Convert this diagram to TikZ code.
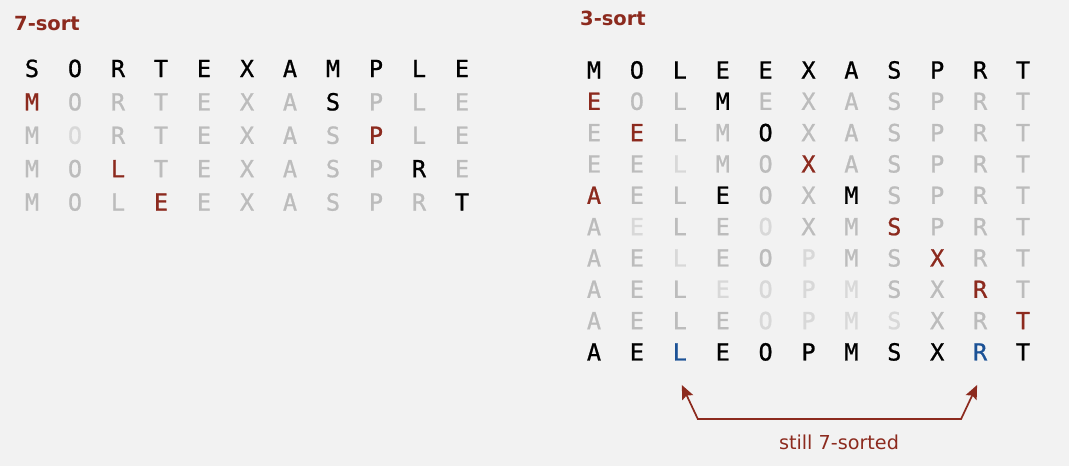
\documentclass[tikz,border=0pt]{standalone}
\usepackage{fontspec}
\setmainfont{DejaVu Sans}
\newfontfamily\monof{DejaVu Sans Mono}[RawFeature={embolden=0.9}]
\usetikzlibrary{arrows.meta,calc}
\definecolor{bgc}{RGB}{242,242,242}
\definecolor{cr}{RGB}{140,42,30}
\definecolor{ck}{RGB}{0,0,0}
\definecolor{cg}{RGB}{188,188,188}
\definecolor{cl}{RGB}{216,216,216}
\definecolor{cb}{RGB}{28,82,150}
\tikzset{
  letter/.style={anchor=base,inner sep=0pt,font=\monof\fontsize{23.5}{28}\selectfont},
  title/.style={anchor=base west,inner sep=0pt,text=cr,font=\bfseries\fontsize{19.5}{24}\selectfont},
  note/.style={anchor=base,inner sep=0pt,text=cr,font=\fontsize{19.2}{23}\selectfont},
  bracket/.style={draw=cr,line width=1.7pt,{Stealth[length=14pt,width=12pt,inset=2.5pt]}-{Stealth[length=14pt,width=12pt,inset=2.5pt]}}
}
\begin{document}
\begin{tikzpicture}[x=1pt,y=-1pt]
\useasboundingbox (0,0) rectangle (1069,466);
\fill[bgc] (0,0) rectangle (1069,466);
\node[title] (t7) at (14,30) {7-sort};
\node[title] (t3) at (580,25) {3-sort};
% left grid: 7-sort
\foreach \row [count=\i] in {
 {S/ck,O/ck,R/ck,T/ck,E/ck,X/ck,A/ck,M/ck,P/ck,L/ck,E/ck},
 {M/cr,O/cg,R/cg,T/cg,E/cg,X/cg,A/cg,S/ck,P/cg,L/cg,E/cg},
 {M/cg,O/cl,R/cg,T/cg,E/cg,X/cg,A/cg,S/cg,P/cr,L/cg,E/cg},
 {M/cg,O/cg,L/cr,T/cg,E/cg,X/cg,A/cg,S/cg,P/cg,R/ck,E/cg},
 {M/cg,O/cg,L/cg,E/cr,E/cg,X/cg,A/cg,S/cg,P/cg,R/cg,T/ck}}{
  \foreach \ch/\c [count=\j] in \row {
    \node[letter,text=\c] (L-\i-\j) at ({32+43*(\j-1)},{77+33.4*(\i-1)}) {\ch};
  }
}
% right grid: 3-sort
\foreach \row [count=\i] in {
 {M/ck,O/ck,L/ck,E/ck,E/ck,X/ck,A/ck,S/ck,P/ck,R/ck,T/ck},
 {E/cr,O/cg,L/cg,M/ck,E/cg,X/cg,A/cg,S/cg,P/cg,R/cg,T/cg},
 {E/cg,E/cr,L/cg,M/cg,O/ck,X/cg,A/cg,S/cg,P/cg,R/cg,T/cg},
 {E/cg,E/cg,L/cl,M/cg,O/cg,X/cr,A/cg,S/cg,P/cg,R/cg,T/cg},
 {A/cr,E/cg,L/cg,E/ck,O/cg,X/cg,M/ck,S/cg,P/cg,R/cg,T/cg},
 {A/cg,E/cl,L/cg,E/cg,O/cl,X/cg,M/cg,S/cr,P/cg,R/cg,T/cg},
 {A/cg,E/cg,L/cl,E/cg,O/cg,P/cl,M/cg,S/cg,X/cr,R/cg,T/cg},
 {A/cg,E/cg,L/cg,E/cl,O/cl,P/cl,M/cl,S/cg,X/cg,R/cr,T/cg},
 {A/cg,E/cg,L/cg,E/cg,O/cl,P/cl,M/cl,S/cl,X/cg,R/cg,T/cr},
 {A/ck,E/ck,L/cb,E/ck,O/ck,P/ck,M/ck,S/ck,X/ck,R/cb,T/ck}}{
  \foreach \ch/\c [count=\j] in \row {
    \node[letter,text=\c] (R-\i-\j) at ({594+42.9*(\j-1)},{78.5+31.33*(\i-1)}) {\ch};
  }
}
% bracket
\coordinate (tipL) at ($(R-10-3.base)+(2,24.5)$);
\coordinate (tipR) at ($(R-10-10.base)+(-3,24.5)$);
\coordinate (cornL) at ($(R-10-3.base)+(18,58.5)$);
\coordinate (cornR) at ($(R-10-10.base)+(-19,58.5)$);
\draw[bracket] (tipL) -- (cornL) -- (cornR) -- (tipR);
\node[note] (lab) at (839,449) {still 7-sorted};
\end{tikzpicture}
\end{document}
